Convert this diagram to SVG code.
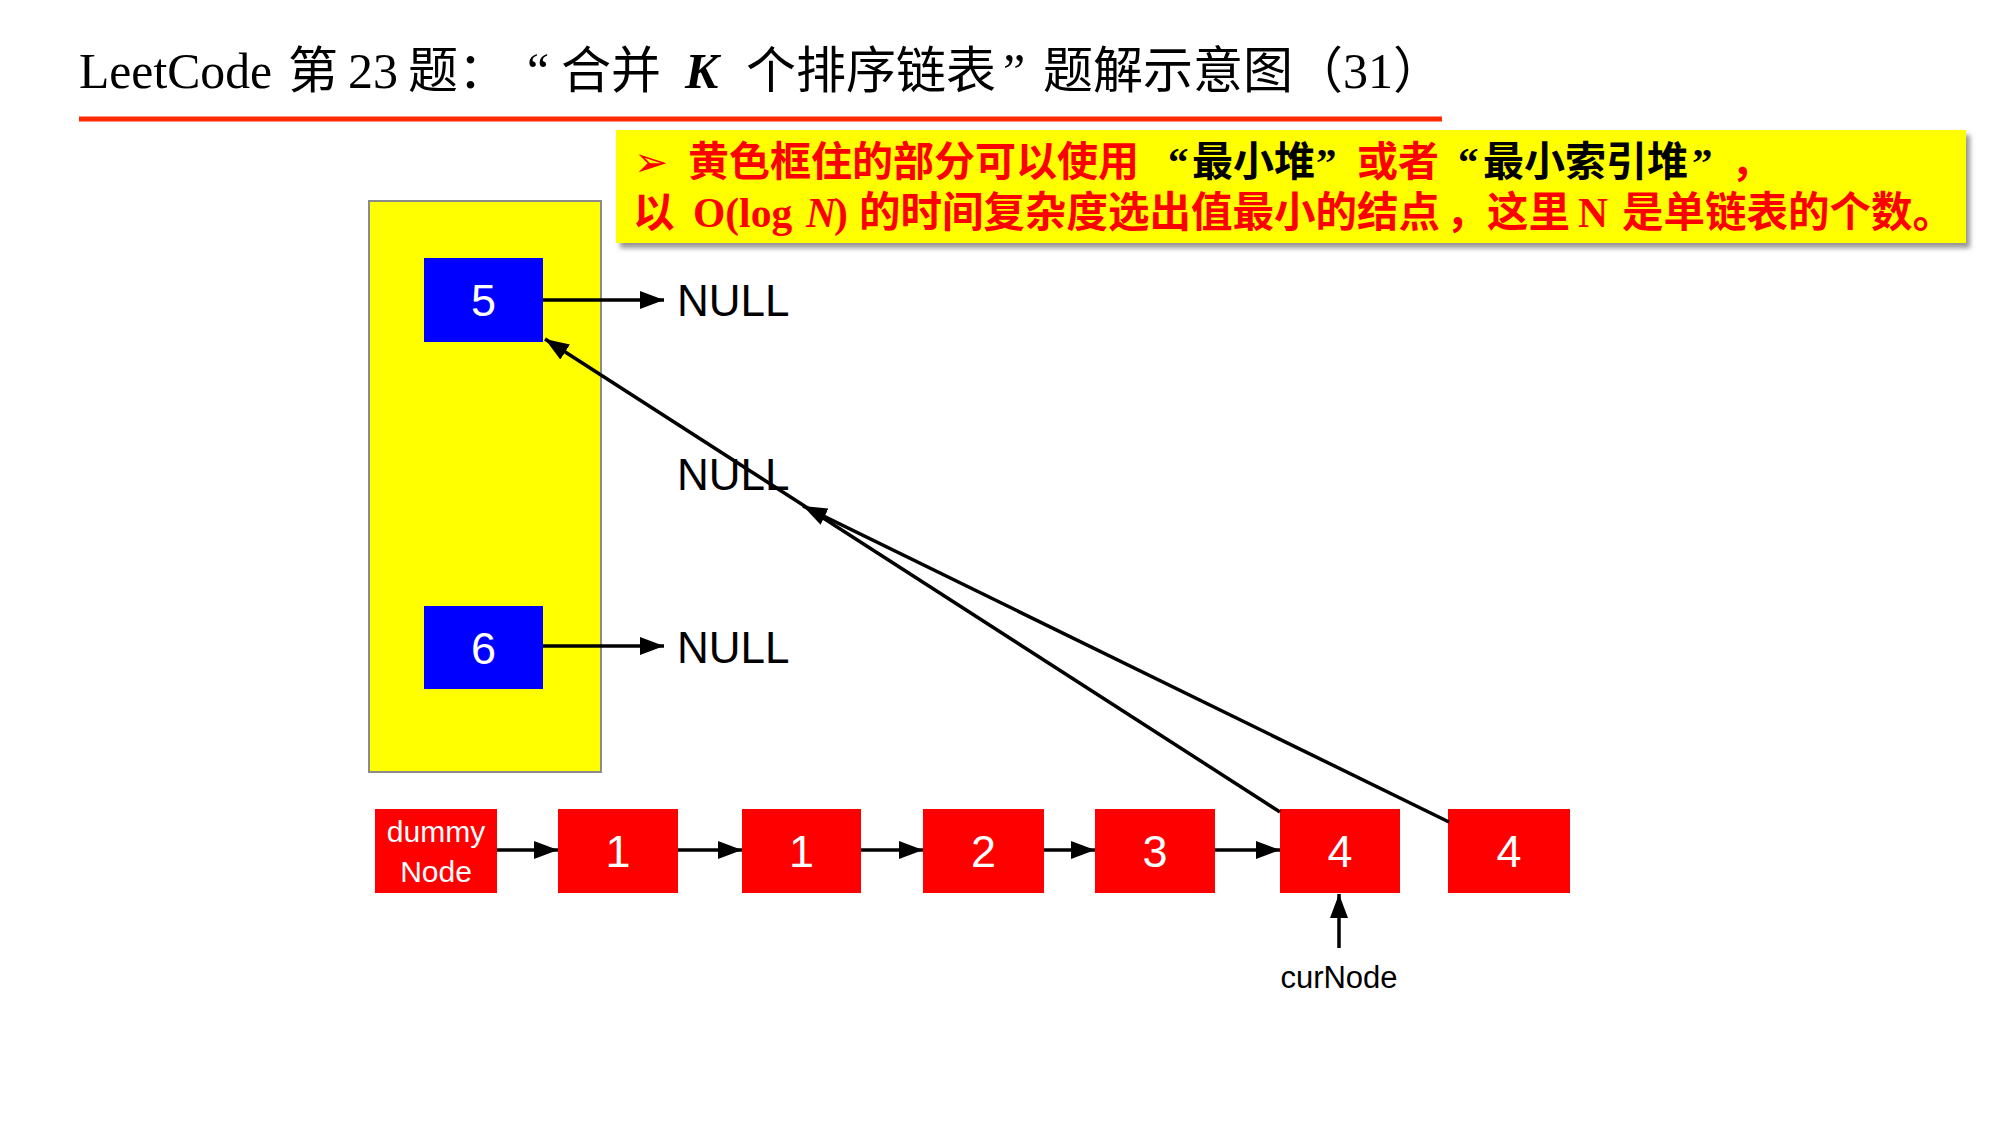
<svg xmlns="http://www.w3.org/2000/svg" width="2000" height="1125" viewBox="0 0 2000 1125">
<style>
.title{font-family:"Liberation Serif","Noto Sans CJK SC",serif;font-size:50px;fill:#000}
.note{font-family:"Liberation Serif","Noto Sans CJK SC",serif;font-weight:bold;fill:#FF0000}
.blk{fill:#000}
.lbl{font-family:"Liberation Sans",Arial,sans-serif;fill:#000}
.num{font-family:"Liberation Sans",Arial,sans-serif;font-size:45px;fill:#fff;text-anchor:middle}
.small{font-family:"Liberation Sans",Arial,sans-serif;font-size:30px;fill:#fff;text-anchor:middle}
.red{fill:#FF0000}
.blue{fill:#0000FF}
.conn line{stroke:#000;stroke-width:3.5;fill:none;marker-end:url(#ah)}
</style>
<defs>
<marker id="ah" markerUnits="userSpaceOnUse" markerWidth="24" markerHeight="18" refX="24" refY="9" orient="auto">
<path d="M0,0 L24,9 L0,18 z" fill="#000"/>
</marker>
<filter id="sh" x="-5%" y="-20%" width="110%" height="150%">
<feDropShadow dx="4" dy="5" stdDeviation="2.5" flood-color="#7a7a7a" flood-opacity="0.8"/>
</filter>
</defs>
<rect width="2000" height="1125" fill="#fff"/>

<g id="title">
<text class="title" x="79" y="88" textLength="193" lengthAdjust="spacingAndGlyphs">LeetCode</text>
<text class="title" y="88"><tspan x="288">第</tspan><tspan x="348">23</tspan><tspan x="408">题：</tspan><tspan x="527">“</tspan><tspan x="561">合并</tspan><tspan x="685" font-weight="bold" font-style="italic">K</tspan><tspan x="746">个排序链表</tspan><tspan x="1003">”</tspan><tspan x="1043">题解示意图（31）</tspan></text>
<rect x="79" y="116.5" width="1363" height="5" fill="#FF2A00"/>
</g>

<g id="note">
<rect x="616" y="130" width="1350" height="113" fill="#FFFF00" filter="url(#sh)"/>
<text class="note" y="176" font-size="41"><tspan x="634" font-family="DejaVu Sans" font-weight="normal">➢</tspan><tspan x="688">黄色框住的部分可以使用</tspan><tspan class="blk" x="1168">“</tspan><tspan class="blk" x="1192">最小堆</tspan><tspan class="blk" x="1316">”</tspan><tspan x="1357">或者</tspan><tspan class="blk" x="1458">“</tspan><tspan class="blk" x="1483">最小索引堆</tspan><tspan class="blk" x="1692">”</tspan><tspan x="1731">，</tspan></text>
<text class="note" y="227" font-size="41.5"><tspan x="633">以</tspan><tspan x="693">O(log</tspan><tspan x="806" font-style="italic">N</tspan><tspan x="834">)</tspan><tspan x="859">的时间复杂度选出值最小的结点</tspan><tspan x="1446">，</tspan><tspan x="1487">这里</tspan><tspan x="1578">N</tspan><tspan x="1622">是单链表的个数。</tspan></text>
</g>

<g id="heap">
<rect x="369" y="201" width="232" height="571" fill="#FFFF00" stroke="#8c8c8c" stroke-width="2"/>
</g>

<g id="node5">
<rect class="blue" x="424" y="258" width="119" height="84"/>
<text class="num" x="483.5" y="316">5</text>
</g>
<g id="node6">
<rect class="blue" x="424" y="606" width="119" height="83"/>
<text class="num" x="483.5" y="664">6</text>
</g>

<g id="null1"><text class="lbl" x="677" y="316" font-size="44">NULL</text></g>
<g id="null2"><text class="lbl" x="677" y="490" font-size="44">NULL</text></g>
<g id="null3"><text class="lbl" x="677" y="663" font-size="44">NULL</text></g>

<g id="dummy">
<rect class="red" x="375" y="809" width="122" height="84"/>
<text class="small" x="436" y="842">dummy</text>
<text class="small" x="436" y="882">Node</text>
</g>
<g id="n1a"><rect class="red" x="558" y="809" width="120" height="84"/><text class="num" x="618" y="867">1</text></g>
<g id="n1b"><rect class="red" x="742" y="809" width="119" height="84"/><text class="num" x="801.5" y="867">1</text></g>
<g id="n2"><rect class="red" x="923" y="809" width="121" height="84"/><text class="num" x="983.5" y="867">2</text></g>
<g id="n3"><rect class="red" x="1095" y="809" width="120" height="84"/><text class="num" x="1155" y="867">3</text></g>
<g id="n4a"><rect class="red" x="1280" y="809" width="120" height="84"/><text class="num" x="1340" y="867">4</text></g>
<g id="n4b"><rect class="red" x="1448" y="809" width="122" height="84"/><text class="num" x="1509" y="867">4</text></g>

<g id="curNode"><text class="lbl" x="1339" y="988" font-size="31" text-anchor="middle">curNode</text></g>

<g id="connectors" class="conn">
<line x1="543" y1="300" x2="664" y2="300"/>
<line x1="543" y1="646" x2="664" y2="646"/>
<line x1="497" y1="850" x2="558" y2="850"/>
<line x1="678" y1="850" x2="742" y2="850"/>
<line x1="861" y1="850" x2="923" y2="850"/>
<line x1="1044" y1="850" x2="1095" y2="850"/>
<line x1="1215" y1="850" x2="1280" y2="850"/>
<line x1="1339" y1="948" x2="1339" y2="894"/>
<line x1="1280" y1="812" x2="545" y2="339"/>
<line x1="1449" y1="822" x2="803" y2="506"/>
</g>
</svg>
